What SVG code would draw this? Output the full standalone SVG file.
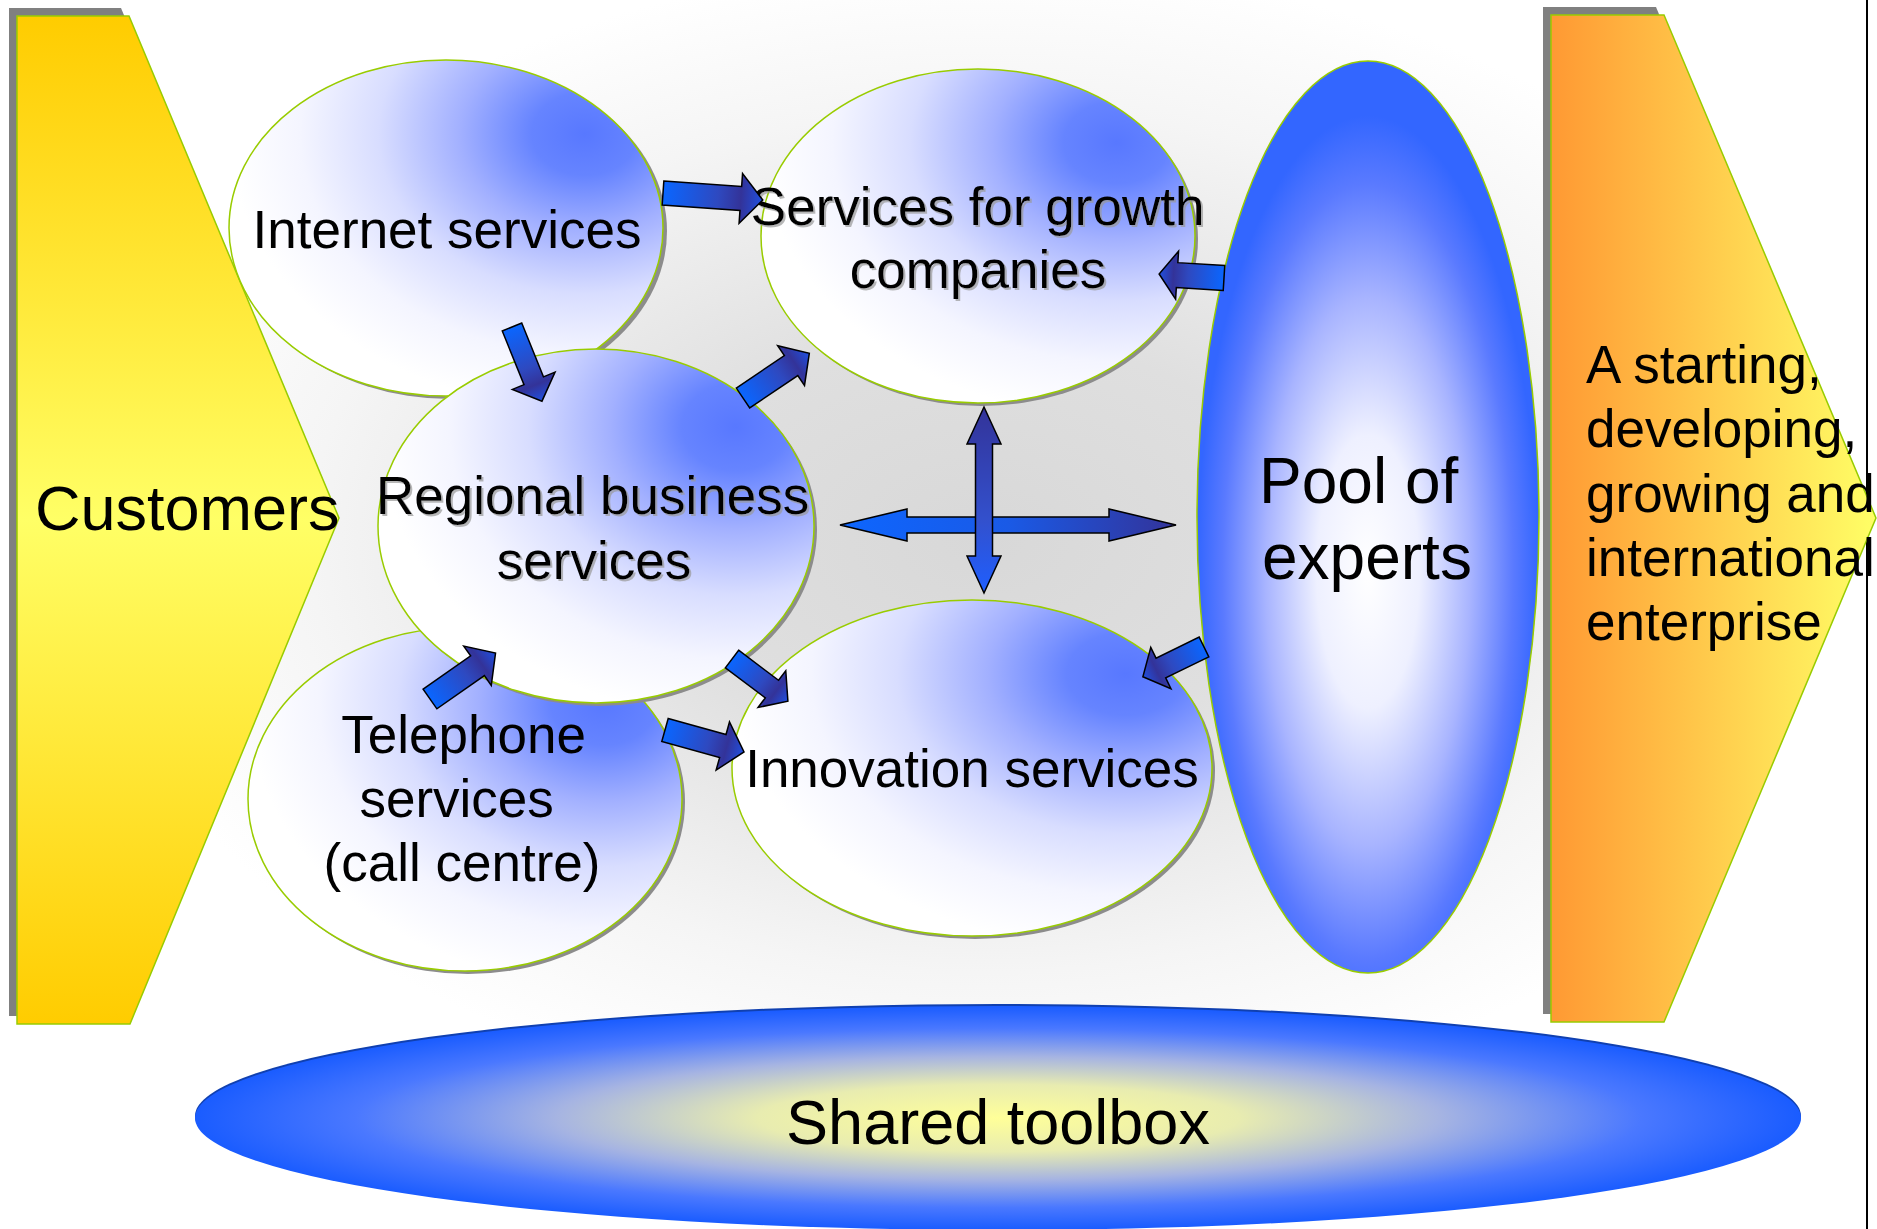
<svg xmlns="http://www.w3.org/2000/svg" width="1877" height="1229" viewBox="0 0 1877 1229">
  <defs>
    <radialGradient id="bg" cx="984" cy="540" r="900" gradientUnits="userSpaceOnUse" gradientTransform="translate(984 540) scale(1 0.64) translate(-984 -540)">
      <stop offset="0" stop-color="#d8d8d8"/>
      <stop offset="0.35" stop-color="#dfdfdf"/>
      <stop offset="0.75" stop-color="#f5f5f5"/>
      <stop offset="1" stop-color="#ffffff"/>
    </radialGradient>
    <linearGradient id="gCust" x1="0" y1="0" x2="0" y2="1">
      <stop offset="0" stop-color="#ffcc00"/>
      <stop offset="0.5" stop-color="#ffff66"/>
      <stop offset="1" stop-color="#ffcc00"/>
    </linearGradient>
    <linearGradient id="gEnt" x1="0" y1="0" x2="1" y2="0">
      <stop offset="0" stop-color="#ff9933"/>
      <stop offset="1" stop-color="#ffff66"/>
    </linearGradient>
    <radialGradient id="gBub" cx="0.82" cy="0.22" r="0.82">
      <stop offset="0" stop-color="#5878ff"/>
      <stop offset="0.15" stop-color="#6684ff"/>
      <stop offset="0.35" stop-color="#a2b0ff"/>
      <stop offset="0.58" stop-color="#d8ddff"/>
      <stop offset="0.8" stop-color="#f4f5ff"/>
      <stop offset="1" stop-color="#ffffff"/>
    </radialGradient>
    <radialGradient id="gPool" cx="0.5" cy="0.56" r="0.5">
      <stop offset="0" stop-color="#ffffff"/>
      <stop offset="0.3" stop-color="#eef0ff"/>
      <stop offset="0.6" stop-color="#a8b4ff"/>
      <stop offset="0.85" stop-color="#5a7aff"/>
      <stop offset="1" stop-color="#3366ff"/>
    </radialGradient>
    <radialGradient id="gTool" cx="0.5" cy="0.5" r="0.5">
      <stop offset="0" stop-color="#ffff99"/>
      <stop offset="0.3" stop-color="#e8ecb0"/>
      <stop offset="0.55" stop-color="#a6b4e2"/>
      <stop offset="0.8" stop-color="#4a78ff"/>
      <stop offset="1" stop-color="#1a5cff"/>
    </radialGradient>
    <linearGradient id="gArr" x1="0" y1="0" x2="1" y2="0">
      <stop offset="0" stop-color="#0a66ff"/>
      <stop offset="0.55" stop-color="#2e49c0"/>
      <stop offset="0.78" stop-color="#333399"/>
      <stop offset="1" stop-color="#2050e0"/>
    </linearGradient>
    <linearGradient id="gH" x1="0" y1="0" x2="1" y2="0">
      <stop offset="0" stop-color="#0d66ff"/>
      <stop offset="0.5" stop-color="#1a5ae6"/>
      <stop offset="1" stop-color="#333399"/>
    </linearGradient>
    <linearGradient id="gV" x1="0" y1="0" x2="0" y2="1">
      <stop offset="0" stop-color="#333399"/>
      <stop offset="0.6" stop-color="#3350cc"/>
      <stop offset="1" stop-color="#1f5fff"/>
    </linearGradient>
    <filter id="tsh" x="-5%" y="-20%" width="110%" height="140%">
      <feDropShadow dx="2" dy="2" stdDeviation="0.6" flood-color="#999999" flood-opacity="0.7"/>
    </filter>
    <style>
      .txt { font-family: "Liberation Sans", Arial, sans-serif; fill: #000000; }
      .bub { fill: url(#gBub); stroke: #99cc00; stroke-width: 1.5; }
      .bsh { fill: #8c8c8c; }
      .chsh { fill: #808080; }
      .arr { fill: url(#gArr); stroke: #000000; stroke-width: 1.5; stroke-linejoin: miter; }
    </style>
  </defs>

  <rect x="0" y="0" width="1877" height="1229" fill="#ffffff"/>
  <rect x="0" y="0" width="1560" height="1229" fill="url(#bg)"/>
  <line x1="1867" y1="0" x2="1867" y2="1229" stroke="#000000" stroke-width="2"/>

  <g id="customers">
    <polygon class="chsh" points="9,8 121,8 331,510 122,1016 9,1016"/>
    <polygon points="17,16 129,16 339,518 130,1024 17,1024" fill="url(#gCust)" stroke="#99cc00" stroke-width="1.5"/>
    <text class="txt" x="35" y="530" font-size="63">Customers</text>
  </g>

  <g id="enterprise">
    <polygon class="chsh" points="1543,7 1656,7 1868,510 1656,1014 1543,1014"/>
    <polygon points="1551,15 1664,15 1876,518 1664,1022 1551,1022" fill="url(#gEnt)" stroke="#99cc00" stroke-width="1.5"/>
    <text class="txt" font-size="53">
      <tspan x="1586" y="383">A starting,</tspan>
      <tspan x="1586" y="447">developing,</tspan>
      <tspan x="1586" y="512">growing and</tspan>
      <tspan x="1586" y="576">international</tspan>
      <tspan x="1586" y="640">enterprise</tspan>
    </text>
  </g>

  <g id="toolbox">
    <ellipse cx="998" cy="1116" rx="803" ry="112" fill="#1040b0"/>
    <ellipse cx="998" cy="1118" rx="803" ry="112" fill="url(#gTool)"/>
    <text class="txt" x="998" y="1144" font-size="63" text-anchor="middle">Shared toolbox</text>
  </g>

  <g id="pool">
    <ellipse cx="1368" cy="517" rx="171" ry="456" fill="url(#gPool)" stroke="#99cc00" stroke-width="1.5"/>
    <text class="txt" font-size="64">
      <tspan x="1259" y="503">Pool of</tspan>
      <tspan x="1262" y="579">experts</tspan>
    </text>
  </g>

  <g id="internet">
    <ellipse class="bsh" cx="450" cy="231" rx="217" ry="168"/>
    <ellipse class="bub" cx="446" cy="228" rx="217" ry="168"/>
    <text class="txt" x="447" y="248" font-size="53" text-anchor="middle">Internet services</text>
  </g>

  <g id="telephone">
    <ellipse class="bsh" cx="468" cy="802" rx="217" ry="172"/>
    <ellipse class="bub" cx="465" cy="799" rx="217" ry="172"/>
    <text class="txt" font-size="53" text-anchor="middle">
      <tspan x="471" y="753">Telephone</tspan>
      <tspan x="464" y="817">services</tspan>
      <tspan x="462" y="881">(call centre)</tspan>
    </text>
  </g>

  <g id="growth">
    <ellipse class="bsh" cx="981" cy="239" rx="217" ry="167"/>
    <ellipse class="bub" cx="978" cy="236" rx="217" ry="167"/>
    <text class="txt" font-size="53" text-anchor="middle" filter="url(#tsh)">
      <tspan x="985" y="225">Services for growth</tspan>
      <tspan x="978" y="288">companies</tspan>
    </text>
  </g>

  <g id="innovation">
    <ellipse class="bsh" cx="975" cy="771" rx="240" ry="168"/>
    <ellipse class="bub" cx="972" cy="768" rx="240" ry="168"/>
    <text class="txt" x="972" y="787" font-size="53" text-anchor="middle">Innovation services</text>
  </g>

  <g id="regional">
    <ellipse class="bsh" cx="599" cy="529" rx="218" ry="177"/>
    <ellipse class="bub" cx="596" cy="526" rx="218" ry="177"/>
    <text class="txt" font-size="53" text-anchor="middle" filter="url(#tsh)">
      <tspan x="600" y="514">Regional business</tspan>
      <tspan x="594" y="579">services</tspan>
    </text>
  </g>

  <g id="connectors">
    <path class="arr" transform="translate(663,193) rotate(4)" d="M0,-12 L78,-12 L78,-25 L100,0 L78,25 L78,12 L0,12 Z"/>
    <path class="arr" transform="translate(512,327) rotate(68)" d="M0,-10.5 L58,-10.5 L58,-23 L80,0 L58,23 L58,10.5 L0,10.5 Z"/>
    <path class="arr" transform="translate(743,398) rotate(-34)" d="M0,-12 L58,-12 L58,-24 L80,0 L58,24 L58,12 L0,12 Z"/>
    <path class="arr" transform="translate(430,699) rotate(-35)" d="M0,-12 L58,-12 L58,-24 L80,0 L58,24 L58,12 L0,12 Z"/>
    <path class="arr" transform="translate(732,659) rotate(37)" d="M0,-11 L50,-11 L50,-23 L70,0 L50,23 L50,11 L0,11 Z"/>
    <path class="arr" transform="translate(665,730) rotate(15.5)" d="M0,-12 L60,-12 L60,-25 L82,0 L60,25 L60,12 L0,12 Z"/>
    <path class="arr" transform="translate(1224,278) rotate(183.5)" d="M0,-12.5 L47,-12.5 L47,-24 L65,0 L47,24 L47,12.5 L0,12.5 Z"/>
    <path class="arr" transform="translate(1204,647) rotate(154)" d="M0,-11 L48,-11 L48,-23 L68,0 L48,23 L48,11 L0,11 Z"/>
    <path d="M840,525 L907,509 L907,517 L1109,517 L1109,509 L1176,525 L1109,541 L1109,533 L907,533 L907,541 Z" fill="url(#gH)" stroke="#000000" stroke-width="1.5"/>
    <path d="M984,407 L1001,444 L992.5,444 L992.5,556 L1001,556 L984,593 L967,556 L975.5,556 L975.5,444 L967,444 Z" fill="url(#gV)" stroke="#000000" stroke-width="1.5"/>
  </g>
</svg>
